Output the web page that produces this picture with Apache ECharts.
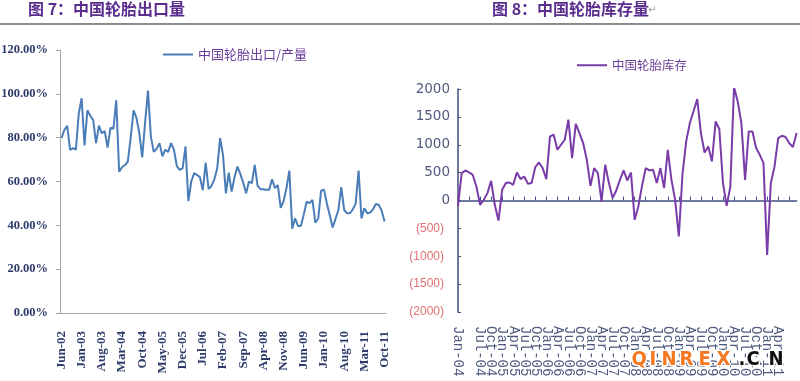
<!DOCTYPE html>
<html><head><meta charset="utf-8">
<script src="https://cdn.jsdelivr.net/npm/echarts@6/dist/echarts.min.js"></script>
<style>html,body{margin:0;padding:0;background:#fff}#c{width:800px;height:381px}</style>
</head><body><div id="c"></div>
<script>
const MONTHS = ['Jan','Feb','Mar','Apr','May','Jun','Jul','Aug','Sep','Oct','Nov','Dec'];
function monthLabels(year, month, n) {
  const out = [];
  for (let i = 0; i < n; i++) {
    const mm = (month + i) % 12;
    const yy = year + Math.floor((month + i) / 12);
    out.push(MONTHS[mm] + '-' + String(yy % 100).padStart(2, '0'));
  }
  return out;
}

// Figure 7: export / production ratio (%), monthly Jun-02 .. Oct-11
const exportMonths = monthLabels(2002, 5, 113);
const exportRatio = [
  79.8, 83.5, 85.4, 74.4, 75.2, 74.5, 91, 98, 76.5, 92.5,
  90, 88, 77.5, 85.5, 82, 83, 75.5, 84.5, 84, 97,
  64.5, 66.5, 67.5, 69, 80, 92.5, 89, 82, 71, 87,
  101.5, 80.5, 73.5, 75, 77.5, 71.5, 74.5, 73.5, 77.5, 74.5,
  67, 65.3, 66, 76, 51, 60, 63.8, 63, 62, 56,
  68.5, 56.5, 58, 61, 66, 79.8, 72, 54.6, 64, 55.4,
  62, 66.8, 63.5, 59.5, 54.6, 60, 59.2, 67.6, 58, 56.5,
  56.5, 56.2, 56.2, 61, 57, 58.4, 48, 51, 57, 65,
  38.5, 43.2, 39.7, 39.7, 45, 50.8, 50.1, 51.6, 41.2, 43,
  55.8, 56.3, 50, 44.7, 39, 43, 47, 57.4, 47, 45.5,
  45.5, 47.3, 50, 65, 43.2, 47.8, 45.5, 45.8, 47.3, 49.8,
  49.3, 46.7, 41.7
];
const pctMin = 0, pctMax = 120, pctStep = 20;

// Figure 8: tyre inventory, monthly Jan-04 .. Sep-11
const stockMonths = monthLabels(2004, 0, 93);
const stockValues = [
  -95, 491, 539, 503, 461, 251, -77, 12, 132, 353,
  -77, -359, 192, 312, 323, 282, 503, 384, 431, 300,
  312, 600, 682, 581, 384, 1149, 1179, 910, 1000, 1090,
  1449, 761, 1376, 1209, 1030, 730, 263, 581, 491, -18,
  641, 312, 43, 180, 371, 539, 359, 503, -347, -108,
  263, 581, 539, 551, 312, 581, 222, 910, 371, 12,
  -646, 480, 1060, 1389, 1600, 1820, 1209, 862, 969, 700,
  1418, 1282, 312, -96, 251, 2035, 1777, 1389, 371, 1239,
  1239, 940, 820, 671, -975, 312, 610, 1120, 1161, 1140,
  1030, 959, 1209
];
const stockMin = -2000, stockMax = 2000, stockStep = 500;

const navy = '#2d3b6b';
const slate = '#4f5a7e';
const wmFont = 'bold 20px "DejaVu Sans Condensed", "DejaVu Sans", sans-serif';
const chart = echarts.init(document.getElementById('c'));
chart.setOption({
  animation: false,
  backgroundColor: '#fff',
  legend: [
    { data: ['中国轮胎出口/产量'], left: 163, top: 48, padding: 0, icon: 'rect', itemWidth: 30, itemHeight: 2, itemGap: 4,
      textStyle: { color: '#6a3d9a', fontSize: 13, fontFamily: '"Noto Sans CJK SC"' } },
    { data: ['中国轮胎库存'], left: 577, top: 59, padding: 0, icon: 'rect', itemWidth: 30, itemHeight: 2,
      textStyle: { color: '#6a3d9a', fontSize: 12.5, fontFamily: '"Noto Sans CJK SC"' } }
  ],
  grid: [
    { left: 60, top: 50, width: 326, height: 263, outerBoundsMode: 'none' },
    { left: 458, top: 89, width: 338.6, height: 223, outerBoundsMode: 'none' }
  ],
  xAxis: [
    { gridIndex: 0, type: 'category', data: exportMonths, boundaryGap: true,
      axisLine: { lineStyle: { color: '#a6a6a6', width: 1 } },
      axisTick: { interval: 6, length: 5, lineStyle: { color: '#a6a6a6' } },
      axisLabel: { interval: 6, rotate: 90, margin: 18, color: navy, fontWeight: 'bold',
        fontSize: 13, fontFamily: '"Liberation Serif", serif', showMinLabel: true, hideOverlap: false },
      splitLine: { show: false } },
    { gridIndex: 1, type: 'category', data: stockMonths, boundaryGap: false, position: 'bottom',
      axisLine: { show: false, onZero: false },
      axisTick: { show: false },
      axisLabel: { interval: 2, rotate: -90, margin: 14, color: slate, fontSize: 14,
        fontFamily: '"Liberation Mono", monospace', showMinLabel: true, showMaxLabel: false, hideOverlap: false },
      splitLine: { show: false } },
    { gridIndex: 1, type: 'category', data: stockMonths, boundaryGap: false, position: 'bottom',
      axisLine: { show: true, onZero: true, lineStyle: { color: '#3f4f86', width: 1.5 } },
      axisTick: { show: true, inside: true, interval: 2, length: 4, lineStyle: { color: '#3f4f86' } },
      axisLabel: { show: false },
      splitLine: { show: false } }
  ],
  yAxis: [
    { gridIndex: 0, type: 'value', min: pctMin, max: pctMax, interval: pctStep,
      axisLine: { show: true, lineStyle: { color: '#a6a6a6' } },
      axisTick: { show: true, length: 4, lineStyle: { color: '#a6a6a6' } },
      splitLine: { show: false },
      axisLabel: { margin: 12, color: navy, fontWeight: 'bold', fontSize: 12.5,
        fontFamily: '"Liberation Serif", serif',
        formatter: v => v.toFixed(2) + '%' } },
    { gridIndex: 1, type: 'value', min: stockMin, max: stockMax, interval: stockStep,
      axisLine: { show: true, lineStyle: { color: '#3f4a78', width: 1.5 } },
      axisTick: { show: true, inside: true, length: 3, lineStyle: { color: '#3f4a78' } },
      splitLine: { show: false },
      axisLabel: { margin: 8,
        formatter: v => v < 0 ? '{n|(' + (-v) + ')}' : '{p|' + v + '}',
        rich: {
          p: { color: slate, fontSize: 13.5, fontFamily: '"DejaVu Sans", sans-serif' },
          n: { color: '#e07070', fontSize: 12, fontFamily: '"Liberation Sans", sans-serif', padding: [0, 6, 0, 0] }
        } } }
  ],
  series: [
    { name: '中国轮胎出口/产量', type: 'line', xAxisIndex: 0, yAxisIndex: 0, data: exportRatio,
      showSymbol: false, symbol: 'none', lineStyle: { color: '#4a7db8', width: 2 }, itemStyle: { color: '#4a7db8' } },
    { name: '中国轮胎库存', type: 'line', xAxisIndex: 1, yAxisIndex: 1, data: stockValues,
      showSymbol: false, symbol: 'none', lineStyle: { color: '#7a3ca8', width: 2 }, itemStyle: { color: '#7a3ca8' } }
  ],
  graphic: [
    { type: 'rect', shape: { x: 0, y: 23, width: 800, height: 2 }, style: { fill: '#8c8c8c' }, silent: true },
    { type: 'text', left: 28, top: 1, style: { text: '图 7：中国轮胎出口量', fill: '#5b2d8e',
      font: 'bold 16px "Noto Sans CJK SC"' } },
    { type: 'text', left: 492, top: 1, style: { text: '图 8：中国轮胎库存量', fill: '#5b2d8e',
      font: 'bold 16px "Noto Sans CJK SC"' } },
    { type: 'text', left: 648, top: 5, style: { text: '↵', fill: '#999', font: '10px "DejaVu Sans"' } },
    { type: 'text', left: 630, top: 348, z: 100, style: {
      text: '{q|Q}{i|I}{n|N}{r|R}{e|E}{x|X}{d|.}{c|C}{k|N}',
      rich: {
        q: { width: 18, fill: '#f5781e', font: wmFont },
        i: { width: 12, fill: '#f5781e', font: wmFont },
        n: { width: 18, fill: '#f5781e', font: wmFont },
        r: { width: 19, fill: '#f5781e', font: wmFont },
        e: { width: 18, fill: '#f5781e', font: wmFont },
        x: { width: 22, fill: '#f5781e', font: wmFont },
        d: { width: 8, fill: '#111', font: wmFont },
        c: { width: 22, fill: '#111', font: wmFont },
        k: { fill: '#111', font: wmFont }
      },
      stroke: '#fff', lineWidth: 3 } }
  ]
});
</script>
</body></html>
